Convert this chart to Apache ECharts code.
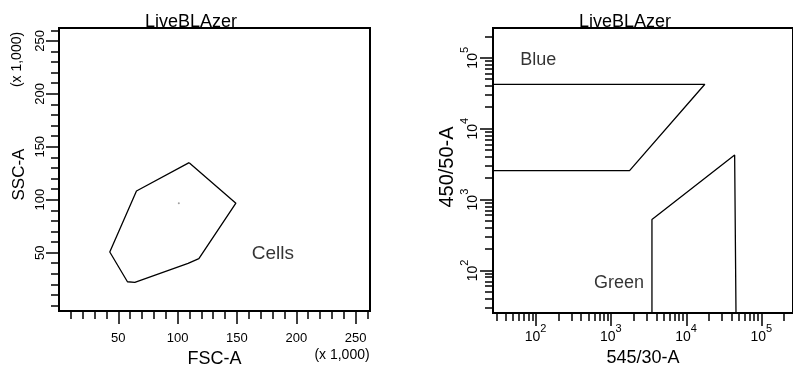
<!DOCTYPE html>
<html>
<head>
<meta charset="utf-8">
<title>LiveBLAzer</title>
<script src="https://cdn.jsdelivr.net/npm/echarts@6/dist/echarts.min.js"></script>
<style>
  html, body { margin: 0; padding: 0; background: #fff; }
  #chart { width: 793px; height: 373px; }
</style>
</head>
<body>
<div id="chart"></div>
<script>
// left plot: FSC-A vs SSC-A, values in thousands
const FSC_RANGE = [0, 262.144];
const SSC_RANGE = [-5.2, 262.144];
const LIN_MAJOR = [50, 100, 150, 200, 250];
const LIN_MINOR_X = [10, 20, 30, 40, 60, 70, 80, 90, 110, 120, 130, 140, 160, 170, 180, 190, 210, 220, 230, 240, 260];
const LIN_MINOR_Y = [0, 10, 20, 30, 40, 60, 70, 80, 90, 110, 120, 130, 140, 160, 170, 180, 190, 210, 220, 230, 240, 260];

const CELLS_FSC = [109.7, 149.1, 117.9, 108.8, 63.9, 57.7, 42.8, 65.3, 109.7];
const CELLS_SSC = [135.0, 96.7, 44.3, 39.9, 21.9, 22.5, 50.6, 108.2, 135.0];
const EVENT_FSC = [101];
const EVENT_SSC = [96.7];
const CELLS_LABEL_AT = [180.3, 49.0];

// right plot: 545/30-A vs 450/50-A, log scales
const GREEN_RANGE = [27, 262144];
const BLUE_RANGE = [25, 262144];
const LOG_MAJOR = [100, 1000, 10000, 100000];
const LOG_DECADES = [10, 100, 1000, 10000, 100000];
const LOG_MULTS = [2, 3, 4, 5, 6, 7, 8, 9];

const BLUE_GATE_X = [27, 17650, 1763, 27];
const BLUE_GATE_Y = [42110, 42110, 2546, 2546];
const GREEN_GATE_X = [3499, 3499, 43950, 45800];
const GREEN_GATE_Y = [25, 520, 4240, 25];

const GATE_NAMES = ['Blue', 'Green'];
const GATE_LABEL_X = [108, 1275];
const GATE_LABEL_Y = [92700, 65.3];

const FONT = "'Liberation Sans', Arial, sans-serif";
const BLACK = '#000';

const zip = (xs, ys) => xs.map((x, i) => [x, ys[i]]);

function logMinor(range) {
    const out = [];
    LOG_DECADES.forEach((d) => LOG_MULTS.forEach((m) => {
        const v = d * m;
        if (v > range[0] && v < range[1]) out.push(v);
    }));
    return out;
}

// "10" sits at the bottom of a 21px line, the exponent at its top
const LOG_RICH = {
    b: { fontSize: 14, lineHeight: 15, verticalAlign: 'bottom', fontFamily: FONT, color: BLACK },
    s: { fontSize: 11, lineHeight: 11, verticalAlign: 'top', fontFamily: FONT, color: BLACK },
    h: { fontSize: 1, lineHeight: 21, verticalAlign: 'middle' },
};

function powLabel(v) {
    return '{b|10}{s|' + Math.round(Math.log10(v)) + '}{h| }';
}

// main axis: line, long ticks, labels; overlay axis: short minor ticks only
function mainAxis(gridIndex, type, range, ticks, extra) {
    return Object.assign({
        gridIndex,
        type,
        min: range[0],
        max: range[1],
        axisLine: { show: true, onZero: false, lineStyle: { color: BLACK, width: 2 } },
        axisTick: { show: true, customValues: ticks, length: 13, lineStyle: { color: BLACK, width: 1.5 } },
        splitLine: { show: false },
        nameLocation: 'middle',
    }, extra);
}

function minorAxis(gridIndex, type, range, ticks, position) {
    return {
        gridIndex,
        type,
        position,
        min: range[0],
        max: range[1],
        axisLine: { show: false, onZero: false },
        axisTick: { show: true, customValues: ticks, length: 8, lineStyle: { color: BLACK, width: 1.5 } },
        axisLabel: { show: false },
        splitLine: { show: false },
    };
}

const chart = echarts.init(document.getElementById('chart'));

chart.setOption({
    animation: false,
    backgroundColor: '#fff',
    title: [
        { text: 'LiveBLAzer', left: 186, top: 8, textAlign: 'center',
          textStyle: { fontSize: 18, fontWeight: 'normal', fontFamily: FONT, color: BLACK } },
        { text: 'LiveBLAzer', left: 620, top: 8, textAlign: 'center',
          textStyle: { fontSize: 18, fontWeight: 'normal', fontFamily: FONT, color: BLACK } },
    ],
    grid: [
        { left: 59, top: 28, width: 311, height: 286, show: true, borderColor: BLACK, borderWidth: 2, backgroundColor: 'transparent' },
        { left: 493, top: 28, width: 312, height: 285, show: true, borderColor: BLACK, borderWidth: 2, backgroundColor: 'transparent' },
    ],
    xAxis: [
        mainAxis(0, 'value', FSC_RANGE, LIN_MAJOR, {
            position: 'bottom',
            name: 'FSC-A', nameGap: 37,
            nameTextStyle: { fontSize: 18, fontFamily: FONT, color: BLACK },
            axisLabel: { customValues: LIN_MAJOR, margin: 21, fontSize: 13, fontFamily: FONT, color: BLACK },
        }),
        minorAxis(0, 'value', FSC_RANGE, LIN_MINOR_X, 'bottom'),
        mainAxis(1, 'log', GREEN_RANGE, LOG_MAJOR, {
            position: 'bottom',
            logBase: 10,
            name: '545/30-A', nameGap: 34,
            nameTextStyle: { fontSize: 18, fontFamily: FONT, color: BLACK },
            axisLabel: { customValues: LOG_MAJOR, margin: 10, formatter: powLabel, rich: LOG_RICH },
        }),
        minorAxis(1, 'log', GREEN_RANGE, logMinor(GREEN_RANGE), 'bottom'),
    ],
    yAxis: [
        mainAxis(0, 'value', SSC_RANGE, LIN_MAJOR, {
            position: 'left',
            name: 'SSC-A', nameGap: 31,
            nameTextStyle: { fontSize: 17, fontFamily: FONT, color: BLACK, padding: [0, 10, 0, 0] },
            axisLabel: { customValues: LIN_MAJOR, rotate: 90, margin: 12, fontSize: 13, fontFamily: FONT, color: BLACK },
        }),
        minorAxis(0, 'value', SSC_RANGE, LIN_MINOR_Y, 'left'),
        mainAxis(1, 'log', BLUE_RANGE, LOG_MAJOR, {
            position: 'left',
            logBase: 10,
            name: '450/50-A', nameGap: 36,
            nameTextStyle: { fontSize: 20, fontFamily: FONT, color: BLACK, padding: [0, 0, 0, 7] },
            axisLabel: { customValues: LOG_MAJOR, rotate: 90, margin: 13, formatter: powLabel, rich: LOG_RICH },
        }),
        minorAxis(1, 'log', BLUE_RANGE, logMinor(BLUE_RANGE), 'left'),
    ],
    graphic: [
        { type: 'text', x: 342, y: 355,
          style: { text: '(x 1,000)', align: 'center', verticalAlign: 'middle', fontSize: 14, fontFamily: FONT, fill: BLACK } },
        { type: 'text', x: 17.5, y: 59.5, rotation: Math.PI / 2,
          style: { text: '(x 1,000)', align: 'center', verticalAlign: 'middle', fontSize: 14, fontFamily: FONT, fill: BLACK } },
    ],
    series: [
        {
            name: 'Cells', type: 'line', xAxisIndex: 0, yAxisIndex: 0,
            data: zip(CELLS_FSC, CELLS_SSC), symbol: 'none', silent: true,
            lineStyle: { color: BLACK, width: 1.3 },
        },
        {
            type: 'scatter', xAxisIndex: 0, yAxisIndex: 0,
            data: zip(EVENT_FSC, EVENT_SSC), symbolSize: 2, silent: true,
            itemStyle: { color: '#888' },
        },
        {
            type: 'scatter', xAxisIndex: 0, yAxisIndex: 0, silent: true,
            data: [{ name: 'Cells', value: CELLS_LABEL_AT }],
            symbolSize: 1, itemStyle: { color: 'rgba(0,0,0,0)' },
            label: { show: true, position: 'inside', formatter: '{b}', fontSize: 19, fontFamily: FONT, color: BLACK },
        },
        {
            name: 'Blue', type: 'line', xAxisIndex: 2, yAxisIndex: 2,
            data: zip(BLUE_GATE_X, BLUE_GATE_Y), symbol: 'none', silent: true,
            lineStyle: { color: BLACK, width: 1.3 },
        },
        {
            name: 'Green', type: 'line', xAxisIndex: 2, yAxisIndex: 2,
            data: zip(GREEN_GATE_X, GREEN_GATE_Y), symbol: 'none', silent: true,
            lineStyle: { color: BLACK, width: 1.3 },
        },
        {
            type: 'scatter', xAxisIndex: 2, yAxisIndex: 2, silent: true,
            data: GATE_NAMES.map((n, i) => ({ name: n, value: [GATE_LABEL_X[i], GATE_LABEL_Y[i]] })),
            symbolSize: 1, itemStyle: { color: 'rgba(0,0,0,0)' },
            label: { show: true, position: 'inside', formatter: '{b}', fontSize: 18, fontFamily: FONT, color: BLACK },
        },
    ],
});
</script>
</body>
</html>
